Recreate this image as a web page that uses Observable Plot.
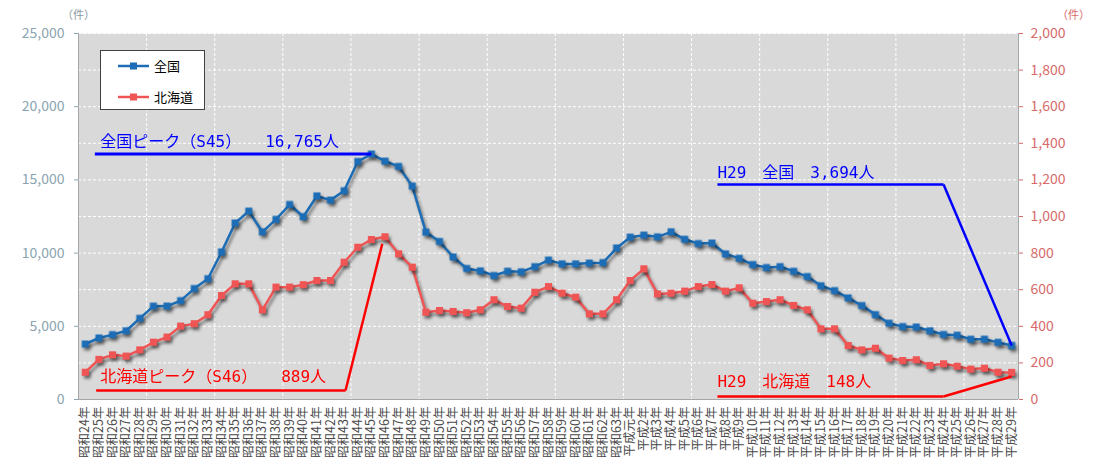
<!DOCTYPE html>
<html><head><meta charset="utf-8">
<script src="https://cdn.jsdelivr.net/npm/d3@7"></script>
<script src="https://cdn.jsdelivr.net/npm/@observablehq/plot@0.6"></script>
<style>
body{margin:0;background:#fff;font-family:"Noto Sans CJK JP",sans-serif;}
#wrap{position:relative;width:1094px;height:466px;overflow:hidden;}
#wrap > svg{position:absolute;left:0;top:0;}
.unit{position:absolute;top:7px;font-size:11px;line-height:14px;white-space:nowrap;}
#legend{position:absolute;left:100px;top:50px;width:105px;height:60px;background:#fff;border:1px solid #404040;box-sizing:border-box;font-size:13px;color:#000;}
#legend .row{position:absolute;left:17px;height:14px;display:flex;align-items:center;}
#legend .row svg{display:block;flex:none;}
#legend .row span{margin-left:5px;line-height:14px;white-space:nowrap;}
</style></head><body><div id="wrap"></div><script>
const labels = ["昭和24年","昭和25年","昭和26年","昭和27年","昭和28年","昭和29年","昭和30年","昭和31年","昭和32年","昭和33年",
"昭和34年","昭和35年","昭和36年","昭和37年","昭和38年","昭和39年","昭和40年","昭和41年","昭和42年","昭和43年",
"昭和44年","昭和45年","昭和46年","昭和47年","昭和48年","昭和49年","昭和50年","昭和51年","昭和52年","昭和53年",
"昭和54年","昭和55年","昭和56年","昭和57年","昭和58年","昭和59年","昭和60年","昭和61年","昭和62年","昭和63年",
"平成元年","平成2年","平成3年","平成4年","平成5年","平成6年","平成7年","平成8年","平成9年","平成10年",
"平成11年","平成12年","平成13年","平成14年","平成15年","平成16年","平成17年","平成18年","平成19年","平成20年",
"平成21年","平成22年","平成23年","平成24年","平成25年","平成26年","平成27年","平成28年","平成29年"];
const national = [3790,4202,4429,4696,5544,6374,6379,6751,7575,8248,
10079,12055,12865,11445,12301,13318,12484,13904,13618,14256,
16257,16765,16278,15918,14574,11432,10792,9734,8945,8783,
8466,8760,8719,9073,9520,9262,9261,9317,9347,10344,
11086,11227,11109,11452,10942,10649,10684,9943,9642,9214,
9012,9073,8757,8396,7768,7436,6937,6415,5796,5209,
4979,4948,4691,4438,4388,4113,4117,3904,3694];
const hokkaido = [149,219,244,237,271,313,341,401,414,463,
568,632,632,490,614,614,627,650,650,750,
832,874,889,796,723,477,486,481,474,490,
545,508,499,586,617,581,559,468,468,545,
650,714,577,581,592,617,628,592,610,526,
535,545,514,490,386,386,295,271,280,226,
213,217,186,195,182,166,171,149,148];
const leftTicks = [0,5000,10000,15000,20000,25000];
const rightTicks = [0,200,400,600,800,1000,1200,1400,1600,1800,2000];
const legendNames = ["全国","北海道"];

const BLUE = "#1c6db5", RED = "#f05555";
const K = 25000 / 2000; // right axis -> left axis units

// annotation callouts (x in category index, y in each series' own units)
const annNatPeak = [[0.7,16765],[21,16765]];
const annHokPeak = [[0.8,49],[19.1,49],[21.8,851]];
const annNatLast = [[46.4,1175],[63.0,1175],[68,3694/K]];
const annHokLast = [[46.4,16],[63.0,16],[68,126]];
const annTexts = [
  {x:1.1, y:17600, text:"全国ピーク（S45）　　16,765人", color:"#0000ff"},
  {x:1.1, y:122*K, text:"北海道ピーク（S46）　　889人", color:"#ff0000"},
  {x:46.4, y:15450, text:"H29　全国　3,694人", color:"#0000ff"},
  {x:46.4, y:94*K, text:"H29　北海道　148人", color:"#ff0000"}
];
const segs = (pts, scale) => d3.pairs(pts).map(([a,b]) => ({x1:a[0], y1:a[1]*scale, x2:b[0], y2:b[1]*scale}));

const idx = d3.range(labels.length);
const plot = Plot.plot({
  width: 1094, height: 466,
  marginTop: 33, marginBottom: 67, marginLeft: 78, marginRight: 76,
  style: {fontFamily: '"Noto Sans CJK JP", sans-serif', background: "transparent"},
  x: {type: "linear", domain: [-0.5, labels.length - 0.5]},
  y: {domain: [0, 25000]},
  marks: [
    Plot.frame({fill: "#d9d9d9", stroke: null}),
    Plot.ruleY(d3.range(2500, 25001, 2500), {stroke: "#ffffff", strokeDasharray: "3,2", strokeWidth: 1}),
    Plot.ruleX(d3.range(4.5, labels.length - 1, 5), {stroke: "#ffffff", strokeDasharray: "3,2", strokeWidth: 1}),
    Plot.ruleX([-0.5, labels.length - 0.5], {stroke: "#a6a6a6"}),
    Plot.ruleY([0], {stroke: "#a6a6a6"}),
    Plot.axisY(leftTicks, {anchor: "left", tickFormat: d3.format(","), tickSize: 4, tickPadding: 10, fontSize: 14, color: "#8aa4b0", label: null}),
    Plot.axisY(rightTicks.map(v => v * K), {anchor: "right", tickFormat: d => d3.format(",")(Math.round(d / K)), tickSize: 4, tickPadding: 8, fontSize: 14, color: "#d86a6a", label: null}),
    Plot.axisX(idx, {anchor: "bottom", tickFormat: i => labels[i], tickRotate: -90, tickSize: 0, tickPadding: 7, fontSize: 12.5, color: "#4a4a4a", label: null}),
    Plot.line(national, {x: (d, i) => i, y: d => d, stroke: BLUE, strokeWidth: 2.5}),
    Plot.dot(national, {x: (d, i) => i, y: d => d, symbol: "square", r: 4, fill: BLUE}),
    Plot.line(hokkaido, {x: (d, i) => i, y: d => d * K, stroke: RED, strokeWidth: 2.5}),
    Plot.dot(hokkaido, {x: (d, i) => i, y: d => d * K, symbol: "square", r: 4, fill: RED}),
    Plot.link(segs(annNatPeak, 1), {x1: "x1", y1: "y1", x2: "x2", y2: "y2", stroke: "#0000ff", strokeWidth: 3}),
    Plot.link(segs(annHokPeak, K), {x1: "x1", y1: "y1", x2: "x2", y2: "y2", stroke: "#ff0000", strokeWidth: 2.5}),
    Plot.link(segs(annNatLast, K), {x1: "x1", y1: "y1", x2: "x2", y2: "y2", stroke: "#0000ff", strokeWidth: 2.5}),
    Plot.link(segs(annHokLast, K), {x1: "x1", y1: "y1", x2: "x2", y2: "y2", stroke: "#ff0000", strokeWidth: 2.5}),
    Plot.text(annTexts, {x: "x", y: "y", text: "text", fill: "color", textAnchor: "start", lineAnchor: "middle", fontSize: 16, fontFamily: '"DejaVu Sans Mono", "Noto Sans CJK JP", monospace'})
  ]
});
d3.select(plot).selectAll('g[aria-label="line"], g[aria-label="dot"]').style("filter", "drop-shadow(2px 3px 1.5px rgba(0,0,0,0.45))");

const wrap = document.getElementById("wrap");
wrap.appendChild(plot);

const ul = document.createElement("div"); ul.className = "unit"; ul.style.left = "62px"; ul.style.color = "#8a9aa2"; ul.textContent = "（件）"; wrap.appendChild(ul);
const ur = document.createElement("div"); ur.className = "unit"; ur.style.left = "1057px"; ur.style.color = "#d86a6a"; ur.textContent = "（件）"; wrap.appendChild(ur);

const lg = document.createElement("div"); lg.id = "legend";
[[BLUE, legendNames[0], 8], [RED, legendNames[1], 39]].forEach(([c, name, top]) => {
  const row = document.createElement("div"); row.className = "row"; row.style.top = top + "px";
  row.innerHTML = `<svg width="31" height="10"><line x1="0" y1="5" x2="31" y2="5" stroke="${c}" stroke-width="2.5"/><rect x="12" y="1.5" width="7" height="7" fill="${c}"/></svg><span>${name}</span>`;
  lg.appendChild(row);
});
wrap.appendChild(lg);
</script></body></html>
